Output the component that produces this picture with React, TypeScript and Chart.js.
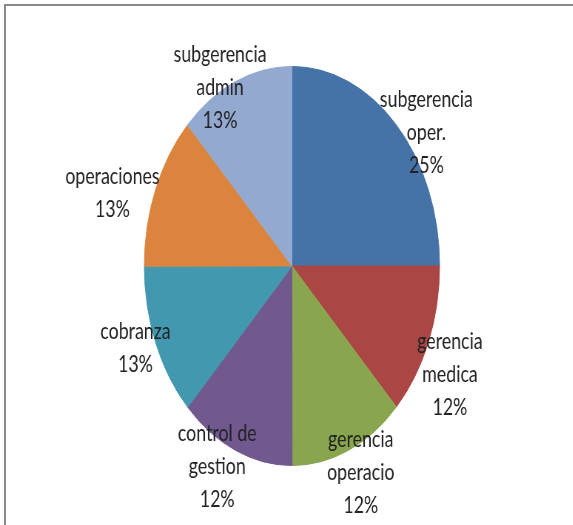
import { useEffect, useRef } from "react";
import { Chart, registerables } from "chart.js";

Chart.register(...registerables);

// Categories (wrapped as in the reference), clockwise from 12 o'clock
const categories: string[][] = [
  ["subgerencia", "oper."],
  ["gerencia", "medica"],
  ["gerencia", "operacio"],
  ["control de", "gestion"],
  ["cobranza"],
  ["operaciones"],
  ["subgerencia", "admin"],
];

// Series values (percent of total)
const values: number[] = [25, 12.49, 12.49, 12.49, 12.51, 12.51, 12.51];

// Slice colours
const colors: string[] = [
  "#4572A7",
  "#AA4643",
  "#89A54E",
  "#71588F",
  "#4198AF",
  "#DB843D",
  "#93A9CF",
];

// Label placement (relative to each slice: radius factor, angle shift in degrees)
const labelRadius: number[] = [1.13, 1.2, 1.135, 1.126, 1.137, 1.27, 1.02];
const labelAngleShift: number[] = [8.7, 4.4, -1.7, 4.3, 1.4, -5.7, -6];

const SX = 0.74;
const CW = Math.round(573 / SX);
const CH = 525;

export default function App() {
  const ref = useRef<HTMLCanvasElement>(null);

  useEffect(() => {
    const total = values.reduce((a, b) => a + b, 0);
    const labelPlugin = {
      id: "pieLabels",
      afterDatasetsDraw(chart: any) {
        const ctx = chart.ctx as CanvasRenderingContext2D;
        const meta = chart.getDatasetMeta(0);
        ctx.save();
        ctx.font = "24px Lato";
        ctx.fillStyle = "#222222";
        ctx.textAlign = "center";
        ctx.textBaseline = "middle";
        meta.data.forEach((arc: any, i: number) => {
          const p = arc.getProps(["x", "y", "startAngle", "endAngle", "outerRadius"], true);
          const mid = (p.startAngle + p.endAngle) / 2 + (labelAngleShift[i] * Math.PI) / 180;
          const r = p.outerRadius * labelRadius[i];
          const cx = p.x + Math.cos(mid) * r;
          const cy = p.y + Math.sin(mid) * r;
          const lines = [...categories[i], Math.round((values[i] / total) * 100) + "%"];
          const lh = 33;
          lines.forEach((t, k) => {
            ctx.fillText(t, cx, cy + (k - (lines.length - 1) / 2) * lh);
          });
        });
        ctx.restore();
      },
    };

    const chart = new Chart(ref.current!, {
      type: "pie",
      data: {
        labels: categories,
        datasets: [
          {
            data: values,
            backgroundColor: colors,
            borderColor: colors,
            borderWidth: 1,
          },
        ],
      },
      options: {
        responsive: false,
        animation: false,
        layout: { padding: { top: 66, bottom: 59, left: 15, right: 0 } },
        plugins: {
          legend: { display: false },
          tooltip: { enabled: false },
        },
      },
      plugins: [labelPlugin],
    });
    return () => chart.destroy();
  }, []);

  return (
    <div
      style={{
        position: "fixed",
        left: 0,
        top: 0,
        width: 573,
        height: 525,
        overflow: "hidden",
        background: "#ffffff",
      }}
    >
      <div
        style={{
          position: "absolute",
          left: 0,
          top: 0,
          width: CW,
          height: CH,
          transform: `scaleX(${SX})`,
          transformOrigin: "0 0",
        }}
      >
        <canvas ref={ref} width={CW} height={CH} style={{ display: "block" }} />
      </div>
      <div
        style={{
          position: "absolute",
          left: 4,
          top: 4,
          right: 0,
          bottom: 0,
          borderTop: "2px solid #8a8a8a",
          borderLeft: "2px solid #8a8a8a",
        }}
      />
    </div>
  );
}
